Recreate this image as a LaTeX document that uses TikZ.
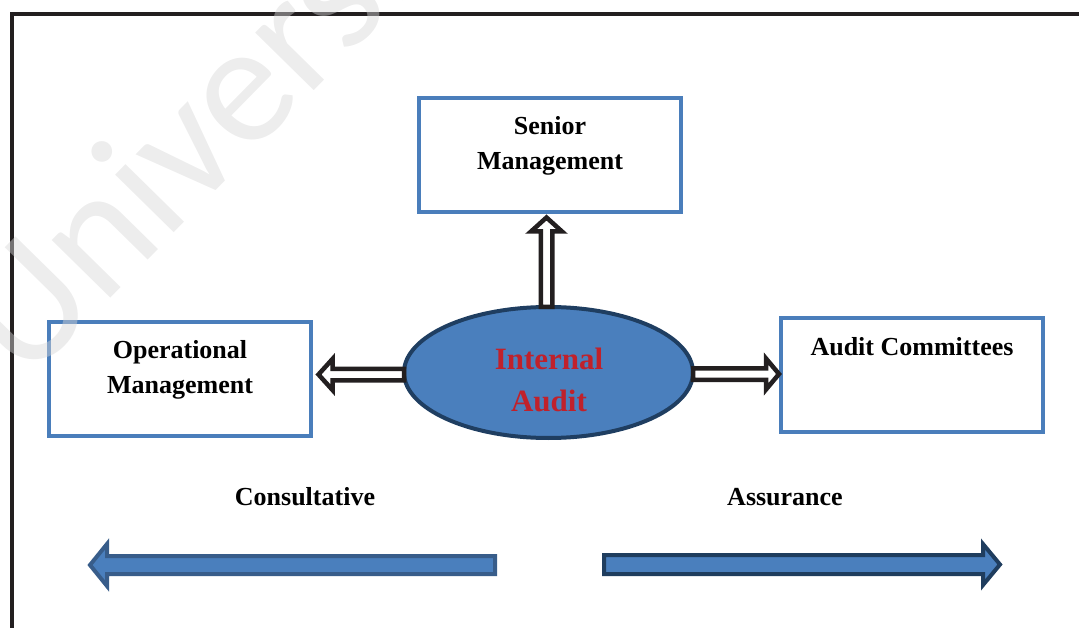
\documentclass[tikz,border=0pt]{standalone}
\usepackage{fontspec}
\setmainfont{Liberation Serif}
\newfontfamily\wmfont{Carlito}
\usetikzlibrary{shapes.geometric,calc}
\definecolor{boxblue}{HTML}{4A7EBB}
\definecolor{fillblue}{HTML}{4A7FBD}
\definecolor{ellborder}{HTML}{1F3E61}
\definecolor{darkline}{HTML}{231F20}
\definecolor{redtxt}{HTML}{C0212B}
\definecolor{leftarrowline}{HTML}{385D8A}
\definecolor{rightarrowline}{HTML}{1F3D5E}
\definecolor{wmgray}{HTML}{D6D6D6}
\tikzset{
  box/.style={draw=boxblue, line width=4pt, fill=white, minimum width=262pt, minimum height=114pt, inner sep=0pt},
  lbl/.style={font=\fontsize{26}{35}\selectfont\bfseries, align=center, inner sep=0pt, text=black},
  redlbl/.style={font=\fontsize{31}{42}\selectfont\bfseries, align=center, inner sep=0pt, text=redtxt},
  hollow/.style={draw=darkline, fill=white, line width=4.5pt, line join=miter},
  bigleft/.style={draw=leftarrowline, fill=fillblue, line width=4pt, line join=miter},
  bigright/.style={draw=rightarrowline, fill=fillblue, line width=4pt, line join=miter},
  frame/.style={draw=darkline, line width=4pt},
  wm/.style={font=\wmfont\fontsize{172}{172}\selectfont, text=wmgray, opacity=0.45, inner sep=0pt}
}
\begin{document}
\begin{tikzpicture}[x=1pt,y=-1pt]
\useasboundingbox (0,0) rectangle (1079,628);
% frame
\draw[frame] (12,630) -- (12,14) -- (1081,14);
% boxes
\node[box] (sm) at (550,155) {};
\node[box] (om) at (179.5,379) {};
\node[box] (ac) at (912,375) {};
% ellipse
\node[ellipse, draw=ellborder, fill=fillblue, line width=4pt, minimum width=289pt, minimum height=131pt, inner sep=0pt] (ia) at (548.5,372.5) {};
% labels
\node[lbl] (smt) at (550,146) {Senior\\Management};
\node[lbl] (omt) at (180,370) {Operational\\Management};
\node[lbl] (act) at (912,347) {Audit Committees};
\node[redlbl] (iat) at (549,380) {Internal\\Audit};
\node[lbl] (cons) at (305,497) {Consultative};
\node[lbl] (assu) at (785,497) {Assurance};
% up hollow arrow
\coordinate (ut) at ($(ia.north |- sm.south)+(-2,3.5)$);
\coordinate (us) at ($(ia.north)+(-2,2)$);
\draw[hollow] ($(us)+(-5.75,0)$) -- ($(ut)+(-5.75,14)$) -- ($(ut)+(-15.5,14)$) -- (ut) -- ($(ut)+(15.5,14)$) -- ($(ut)+(5.75,14)$) -- ($(us)+(5.75,0)$) -- cycle;
% left hollow arrow
\coordinate (lt) at ($(om.east |- ia.west)+(6,2)$);
\coordinate (ls) at ($(ia.west)+(2,2)$);
\draw[hollow] ($(ls)+(0,-5.75)$) -- ($(lt)+(14,-5.75)$) -- ($(lt)+(14,-15.5)$) -- (lt) -- ($(lt)+(14,15.5)$) -- ($(lt)+(14,5.75)$) -- ($(ls)+(0,5.75)$) -- cycle;
% right hollow arrow
\coordinate (rt) at ($(ac.west |- ia.east)+(0,1.5)$);
\coordinate (rs) at ($(ia.east)+(-2,1.5)$);
\draw[hollow] ($(rs)+(0,-5.75)$) -- ($(rt)+(-13,-5.75)$) -- ($(rt)+(-13,-15.5)$) -- (rt) -- ($(rt)+(-13,15.5)$) -- ($(rt)+(-13,5.75)$) -- ($(rs)+(0,5.75)$) -- cycle;
% big arrows
\draw[bigleft] (495,556) -- (107,556) -- (107,544) -- (90,565) -- (107,586) -- (107,574) -- (495,574) -- cycle;
\draw[bigright] (604,555) -- (983,555) -- (983,544) -- (1000,564.5) -- (983,585) -- (983,574) -- (604,574) -- cycle;
% watermark
\begin{scope}
\clip (0,0) rectangle (1079,628);
\node[wm, rotate=45.5, anchor=base west] (wmk) at (25,385) {University};
\end{scope}
\end{tikzpicture}
\end{document}
